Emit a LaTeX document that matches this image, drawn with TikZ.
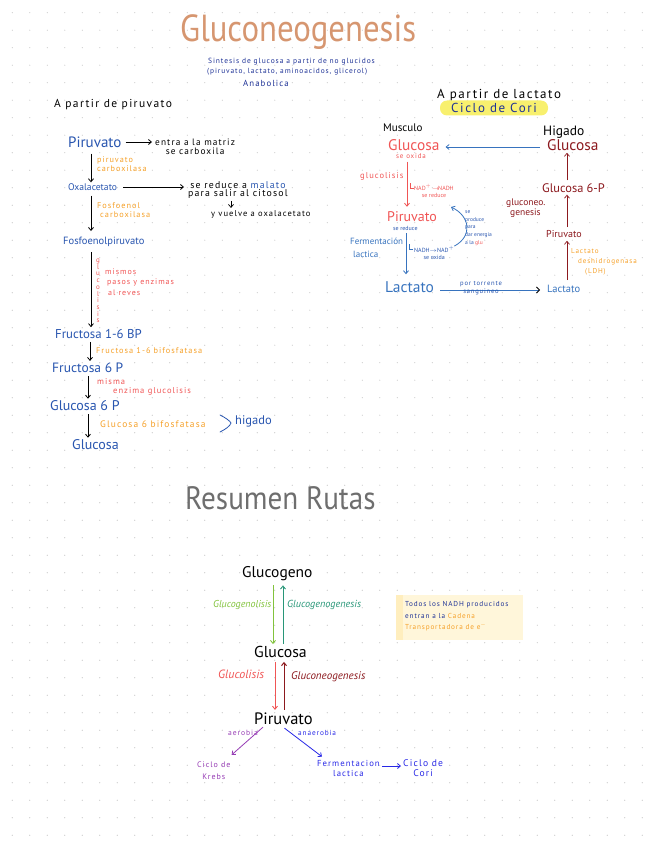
\documentclass[tikz,border=0pt]{standalone}
\usepackage{fontspec}
\setmainfont{PT Sans}
\newfontfamily\wfont[LetterSpace=12]{PT Sans}
\usetikzlibrary{arrows.meta,calc}
\definecolor{titlec}{RGB}{214,150,112}
\definecolor{navy}{RGB}{30,50,150}
\definecolor{bluep}{RGB}{40,85,175}
\definecolor{orangec}{RGB}{245,160,40}
\definecolor{redc}{RGB}{240,85,85}
\definecolor{darkred}{RGB}{140,25,30}
\definecolor{coriblue}{RGB}{55,115,190}
\definecolor{greenc}{RGB}{130,195,60}
\definecolor{tealc}{RGB}{40,150,120}
\definecolor{purplec}{RGB}{150,60,180}
\definecolor{bbluec}{RGB}{40,40,230}
\definecolor{grayt}{RGB}{110,110,110}
\definecolor{hiyel}{RGB}{248,240,110}
\definecolor{notey}{RGB}{255,246,218}
\definecolor{notey2}{RGB}{255,238,190}
\newcommand\fz[2]{\fontsize{#1}{#2}\selectfont}
\begin{document}
\begin{tikzpicture}[x=1pt,y=-1pt,
  lbl/.style={inner sep=0pt,anchor=west},
  arr/.style={-{Straight Barb[length=3pt,width=5pt]},line width=0.8pt},
  dotc/.style={fill=black!22}]
\useasboundingbox (0,0) rectangle (655,848);
% dot grid
\foreach \i in {0,...,36}{\foreach \j in {0,...,47}{
  \fill[dotc] (12.3+17.5*\i,12.7+17.5*\j) circle (0.6);}}
% title
\node[lbl,text=titlec,font=\fz{29}{30}] (title) at (180,32) {\scalebox{1.13}[1.3]{Gluconeogenesis}};
\node[lbl,text=navy,font=\wfont\fz{7.5}{9}] (sub1) at (208,62) {Sintesis de glucosa a partir de no glucidos};
\node[lbl,text=navy,font=\wfont\fz{7.4}{9}] (sub2) at (207,72) {(piruvato, lactato, aminoacidos, glicerol)};
\node[lbl,text=navy,font=\wfont\fz{8.8}{9}] (sub3) at (243,83) {Anabolica};
% left pathway
\node[lbl,font=\wfont\fz{11.5}{13}] (hdrL) at (54,105) {A partir de piruvato};
\node[lbl,text=bluep,font=\fz{15}{15}] (pir) at (68,142) {Piruvato};
\node[lbl,align=center,font=\wfont\fz{9.3}{9}] (mat) at (155,147) {entra a la matriz\\se carboxila};
\draw[arr,shorten <=4pt,shorten >=3pt] (pir.east) -- (pir.east -| mat.west);
\node[lbl,align=left,text=orangec,font=\wfont\fz{8.2}{8.5}] (pc) at (97,164) {piruvato\\carboxilasa};
\node[lbl,text=bluep,font=\fz{9.6}{10}] (oxa) at (68,187) {Oxalacetato};
\draw[arr,shorten <=6pt,shorten >=1pt] (pir.south -| 91,0) -- (oxa.north -| 91,0);
\node[lbl,align=center,font=\wfont\fz{9.8}{8.5}] (mal) at (188,190) {se reduce a {\color{bluep}malato}\\para salir al citosol};
\draw[arr,shorten <=6pt,shorten >=4pt] (oxa.east) -- (oxa.east -| mal.west);
\node[lbl,font=\wfont\fz{8.5}{8.5}] (vuel) at (211,214) {y vuelve a oxalacetato};
\draw[arr,line width=0.7pt,shorten <=2pt,shorten >=2pt] (mal.south -| 231,0) -- (vuel.north -| 231,0);
\node[lbl,align=left,text=orangec,font=\wfont\fz{8.3}{9}] (fc) at (97,210) {Fosfoenol\\\hspace{3pt}carboxilasa};
\node[lbl,text=bluep,font=\fz{10.5}{11}] (pep) at (63,242) {Fosfoenolpiruvato};
\draw[arr,shorten <=5pt,shorten >=6pt] (oxa.south -| 91,0) -- (pep.north -| 91,0);
\node[lbl,align=center,text=redc,font=\fz{7}{6.7}] (glv) at (96,291) {g\\l\\u\\c\\o\\l\\i\\s\\i\\s};
\node[lbl,align=left,text=redc,font=\wfont\fz{8}{10.5}] (mism) at (105,282) {mismos\\\hspace{2pt}pasos y enzimas\\\hspace{3pt}al reves};
\node[lbl,text=bluep,font=\fz{12.8}{13}] (f16) at (55,334) {Fructosa 1-6 BP};
\draw[arr,shorten <=5pt,shorten >=2pt] (pep.south -| 91,0) -- (f16.north -| 91,0);
\node[lbl,text=orangec,font=\wfont\fz{8.3}{8.5}] (f16bf) at (96,351) {Fructosa 1-6 bifosfatasa};
\node[lbl,text=bluep,font=\fz{13.5}{13.5}] (f6p) at (52,368) {Fructosa 6 P};
\draw[arr,shorten <=3pt,shorten >=2pt] (f16.south -| 90,0) -- (f6p.north -| 90,0);
\node[lbl,align=left,text=redc,font=\wfont\fz{8.5}{8.5}] (misma) at (97,387) {misma\\\hspace{16pt}enzima glucolisis};
\node[lbl,text=bluep,font=\fz{14}{14}] (g6p) at (50,406) {Glucosa 6 P};
\draw[arr,shorten <=3pt,shorten >=2pt] (f6p.south -| 88,0) -- (g6p.north -| 88,0);
\node[lbl,text=orangec,font=\wfont\fz{9.4}{9.5}] (g6bf) at (100,424) {Glucosa 6 bifosfatasa};
\node[lbl,text=bluep,font=\fz{12.5}{12.5}] (hig) at (235,421) {higado};
\draw[bluep,line width=0.8pt,line cap=round] (220,415) .. controls (226,418) and (230,421) .. (231,423) .. controls (230,426) and (226,429) .. (220,432);
\node[lbl,text=bluep,font=\fz{14}{14}] (glc) at (72,445) {Glucosa};
\draw[arr,shorten <=3pt,shorten >=2pt] (g6p.south -| 88,0) -- (glc.north -| 88,0);
% right: Cori
\node[lbl,font=\wfont\fz{13}{14}] (hdrR) at (437,95) {A partir de lactato};
\node[fill=hiyel,rounded corners=7pt,minimum width=108pt,minimum height=15pt,inner sep=0pt,text=navy,font=\wfont\fz{13}{13}] (cori) at (494,108) {Ciclo de Cori};
\node[lbl,font=\fz{11}{11}] (mus) at (383,128) {Musculo};
\node[lbl,font=\fz{13.5}{13.5}] (hgd) at (543,132) {Higado};
\node[lbl,text=redc,font=\fz{15.4}{15}] (gM) at (388,145) {Glucosa};
\node[lbl,text=redc,font=\wfont\fz{7}{7}] (sox) at (396,156) {se oxida};
\node[lbl,text=darkred,font=\fz{15.4}{15}] (gH) at (547,145) {Glucosa};
\draw[arr,coriblue,shorten <=7pt,shorten >=6pt] (gH.west |- 0,147) -- (gM.east |- 0,147);
\node[lbl,text=redc,font=\wfont\fz{8.5}{9}] (glic) at (360,176) {glucolisis};
\node[lbl,text=redc,font=\fz{14}{14}] (pirM) at (387,217) {Piruvato};
\draw[arr,redc,shorten <=3pt,shorten >=5pt] (sox.south -| 407,0) -- (pirM.north -| 407,0);
\draw[redc,line width=0.5pt] (410,183) |- (414,188);
\node[lbl,align=center,text=redc,font=\fz{6}{7}] (nad1) at (414,191) {NAD$^{+}\!\to\!$NADH\\se reduce};
\node[lbl,text=bluep,font=\fz{6}{6}] (sred) at (393,228) {se reduce};
\node[lbl,align=left,text=coriblue,font=\fz{9}{13}] (ferm) at (350,248) {Fermentación\\\hspace{3pt}lactica};
\draw[coriblue,line width=0.5pt] (409,244) |- (413,249);
\node[lbl,align=center,text=bluep,font=\fz{6}{7.5}] (nad2) at (414,253) {NADH$\to$NAD$^{+}$\\se oxida};
\node[lbl,align=left,text=bluep,font=\fz{5.5}{7.8}] (prod) at (465,228) {se\\produce\\para\\dar energia\\a la {\color{redc}glu}};
\draw[arr,coriblue] (nad2.north east) .. controls (473,236) and (470,216) .. (451,207);
\node[lbl,text=coriblue,font=\fz{15.5}{15}] (lacM) at (385,287) {Lactato};
\draw[arr,coriblue,shorten <=3pt,shorten >=7pt] (sred.south -| 406,0) -- (lacM.north -| 406,0);
\node[lbl,text=coriblue,font=\fz{10.5}{11}] (lacH) at (547,289) {Lactato};
\draw[coriblue,line width=0.8pt,-{Straight Barb[length=3pt,width=6pt,color=black]}] ($(lacM.east)+(6,3)$) -- ($(lacH.west)+(-7,1)$);
\node[align=center,text=bluep,font=\wfont\fz{6.6}{8},inner sep=0pt] (torr) at (481,288) {por torrente\\sanguineo};
\node[lbl,text=darkred,font=\fz{10}{10}] (pirH) at (546,234) {Piruvato};
\draw[arr,darkred,line width=0.7pt,shorten <=5pt,shorten >=3pt] (lacH.north -| 567,0) -- (pirH.south -| 567,0);
\node[lbl,align=left,text=orangec,font=\wfont\fz{7.1}{10}] (ldh) at (571,262) {Lactato\\\hspace{7pt}deshidrogenasa\\\hspace{14pt}(LDH)};
\node[lbl,align=left,text=darkred,font=\fz{9.5}{10}] (gneo) at (506,208) {gluconeo.\\\hspace{4pt}genesis};
\node[lbl,text=darkred,font=\fz{12.4}{12}] (g6pH) at (542,188) {Glucosa 6-P};
\draw[arr,darkred,line width=0.7pt,shorten <=3pt,shorten >=2pt] (pirH.north -| 567,0) -- (g6pH.south -| 567,0);
\draw[arr,darkred,line width=0.7pt,shorten <=3pt,shorten >=2pt] (g6pH.north -| 567,0) -- (gH.south -| 567,0);
% resumen
\node[lbl,text=grayt,font=\fz{27}{28}] (res) at (185,498) {\scalebox{1.08}[1.2]{Resumen Rutas}};
\node[lbl,font=\fz{15.5}{15}] (glcg) at (242,574) {Glucogeno};
\node[lbl,font=\fz{15.8}{15}] (glcs) at (254,652) {Glucosa};
\node[lbl,font=\fz{16.5}{16}] (pirS) at (254,719) {Piruvato};
\draw[arr,greenc,line width=0.9pt,shorten <=4pt,shorten >=2pt] (glcg.south -| 273,0) -- (glcs.north -| 273,0);
\draw[arr,tealc,line width=0.9pt,shorten <=2pt,shorten >=4pt] (glcs.north -| 283,0) -- (glcg.south -| 283,0);
\node[lbl,text=greenc,font=\fz{10}{10}\itshape] (gnol) at (213,605) {Glucogenolisis};
\node[lbl,text=tealc,font=\fz{10.2}{10}\itshape] (gngn) at (287,605) {Glucogenogenesis};
\draw[arr,redc,line width=0.9pt,shorten <=4pt,shorten >=3pt] (glcs.south -| 275,0) -- (pirS.north -| 275,0);
\draw[arr,darkred,line width=1pt,shorten <=3pt,shorten >=4pt] (pirS.north -| 284,0) -- (glcs.south -| 284,0);
\node[lbl,text=redc,font=\fz{12}{12}\itshape] (glys) at (218,674) {Glucolisis};
\node[lbl,text=darkred,font=\fz{11}{11}\itshape] (gneoS) at (291,677) {Gluconeogenesis};
\node[lbl,text=purplec,font=\wfont\fz{7.6}{7}] (aer) at (228,733) {aerobia};
\node[lbl,align=center,text=purplec,font=\wfont\fz{8}{12}] (krebs) at (197,771) {Ciclo de\\Krebs};
\draw[arr,purplec,line width=0.8pt] ($(pirS.south west)+(9,2)$) -- ($(krebs.north east)+(1,-7)$);
\node[lbl,text=bbluec,font=\wfont\fz{7.3}{7}] (anaer) at (298,733) {anaerobia};
\node[lbl,align=center,text=bbluec,font=\wfont\fz{8.7}{10}] (fl) at (317,768) {Fermentacion\\lactica};
\draw[arr,bbluec,line width=0.8pt] ($(pirS.south)+(1,3)$) -- ($(fl.north west)+(5,-3)$);
\node[lbl,align=center,text=bbluec,font=\wfont\fz{9.6}{10}] (cc) at (403,768) {Ciclo de\\Cori};
\draw[arr,bbluec,line width=0.8pt,shorten <=2pt,shorten >=2pt] (fl.east |- 0,766) -- (cc.west |- 0,766);
% note
\fill[notey] (396,595) rectangle (523,640);
\fill[notey2] (396,595) rectangle (403,640);
\node[lbl,align=left,text=navy,font=\wfont\fz{7.2}{11.5}] (note) at (405,616.5) {Todos los NADH producidos\\entran a la {\color{orangec}Cadena}\\{\color{orangec}Transportadora de e$^-$}};
\end{tikzpicture}
\end{document}
